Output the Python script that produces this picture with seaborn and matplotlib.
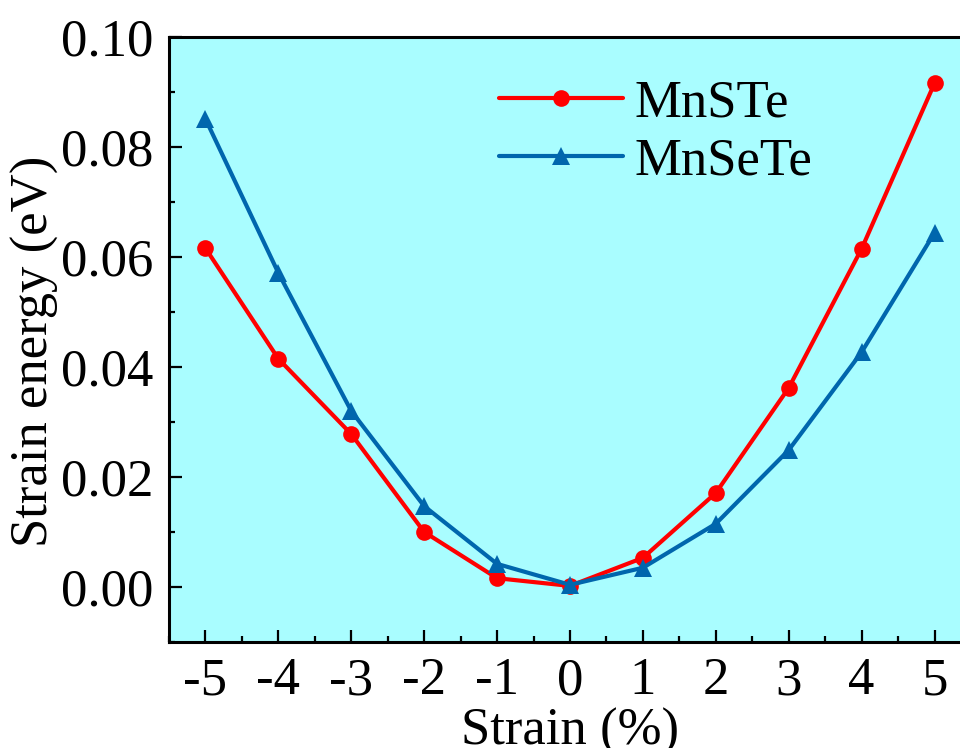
import matplotlib
matplotlib.use("Agg")
import matplotlib.pyplot as plt
import seaborn as sns
import pandas as pd
from matplotlib.ticker import MultipleLocator, FixedLocator

strain = [-5, -4, -3, -2, -1, 0, 1, 2, 3, 4, 5]
mnste = [0.0616, 0.0415, 0.0278, 0.0100, 0.0016, 0.0002, 0.0053, 0.0171, 0.0362, 0.0615, 0.0916]
mnsete = [0.0851, 0.0571, 0.0320, 0.0147, 0.0042, 0.0004, 0.0035, 0.0115, 0.0249, 0.0427, 0.0644]
xtick_labels = ["-5", "-4", "-3", "-2", "-1", "0", "1", "2", "3", "4", "5"]
ytick_vals = [0.00, 0.02, 0.04, 0.06, 0.08, 0.10]
ytick_labels = ["0.00", "0.02", "0.04", "0.06", "0.08", "0.10"]

sns.set_style("ticks")
plt.rcParams["font.family"] = ["Liberation Serif", "DejaVu Serif"]
plt.rcParams["font.size"] = 38
plt.rcParams["text.color"] = "black"
plt.rcParams["axes.labelcolor"] = "black"
plt.rcParams["xtick.color"] = "black"
plt.rcParams["ytick.color"] = "black"

df = pd.DataFrame({"Strain": strain, "MnSTe": mnste, "MnSeTe": mnsete})

fig = plt.figure(figsize=(9.6, 7.48), dpi=100)
ax = fig.add_axes([169 / 960, 1 - 642 / 748, 802 / 960, (642 - 37) / 748])
ax.set_facecolor("#a9fdff")

sns.lineplot(data=df, x="Strain", y="MnSTe", ax=ax, color="#ff0000", lw=3,
             marker="o", markersize=12, markeredgewidth=0, label="MnSTe")
sns.lineplot(data=df, x="Strain", y="MnSeTe", ax=ax, color="#0066ad", lw=3,
             marker="^", markersize=13, markeredgewidth=0, label="MnSeTe")

ax.set_xlim(-5.5, 5.5)
ax.set_ylim(-0.01, 0.10)
ax.xaxis.set_major_locator(FixedLocator(strain))
ax.set_xticklabels(xtick_labels)
ax.xaxis.set_minor_locator(MultipleLocator(0.5))
ax.yaxis.set_major_locator(FixedLocator(ytick_vals))
ax.set_yticklabels(ytick_labels)
ax.yaxis.set_minor_locator(MultipleLocator(0.01))

ax.tick_params(which="major", direction="in", length=9, width=1.6, labelsize=38, pad=11,
               colors="black")
ax.tick_params(which="minor", direction="in", length=4.5, width=1.6, colors="black")
for s in ax.spines.values():
    s.set_linewidth(2.2)
    s.set_color("black")

ax.set_xlabel("Strain (%)", fontsize=38, labelpad=2)
ax.set_ylabel("Strain energy (eV)", fontsize=38, labelpad=2)
ax.yaxis.label.set_y(0.48)

leg = ax.legend(loc="upper left", bbox_to_anchor=(0.385, 0.965), frameon=False,
                fontsize=38, handlelength=2.35, handletextpad=0.22, labelspacing=0.2,
                borderaxespad=0)

fig.savefig("out.png", dpi=100)
